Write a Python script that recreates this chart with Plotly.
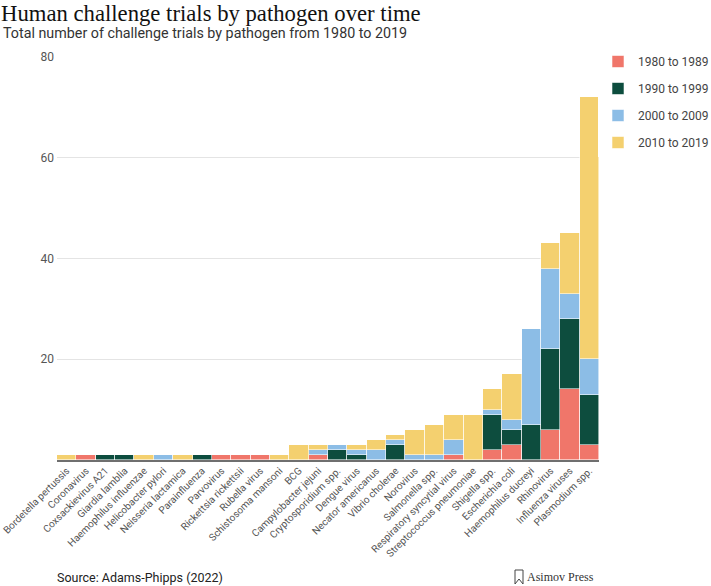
import plotly.graph_objects as go

# pathogens in plotting order (left to right)
pathogens = [
    "Bordetella pertussis", "Coronavirus", "Coxsackievirus A21", "Giardia lamblia",
    "Haemophilus influenzae", "Helicobacter pylori", "Neisseria lactamica", "Parainfluenza",
    "Parvovirus", "Rickettsia rickettsii", "Rubella virus", "Schistosoma mansoni",
    "BCG", "Campylobacter jejuni", "Cryptosporidium spp.", "Dengue virus",
    "Necator americanus", "Vibrio cholerae", "Norovirus", "Salmonella spp.",
    "Respiratory syncytial virus", "Streptococcus pneumoniae", "Shigella spp.",
    "Escherichia coli", "Haemophilus ducreyi", "Rhinovirus", "Influenza viruses",
    "Plasmodium spp.",
]

# number of trials per decade
trials_1980s = [0, 1, 0, 0, 0, 0, 0, 0, 1, 1, 1, 0, 0, 1, 0, 0, 0, 0, 0, 0, 1, 0, 2, 3, 0, 6, 14, 3]
trials_1990s = [0, 0, 1, 1, 0, 0, 0, 1, 0, 0, 0, 0, 0, 0, 2, 1, 0, 3, 0, 0, 0, 0, 7, 3, 7, 16, 14, 10]
trials_2000s = [0, 0, 0, 0, 0, 1, 0, 0, 0, 0, 0, 0, 0, 1, 1, 1, 2, 1, 1, 1, 3, 0, 1, 2, 19, 16, 5, 7]
trials_2010s = [1, 0, 0, 0, 1, 0, 1, 0, 0, 0, 0, 1, 3, 1, 0, 1, 2, 1, 5, 6, 5, 9, 4, 9, 0, 5, 12, 52]

decades = ["1980 to 1989", "1990 to 1999", "2000 to 2009", "2010 to 2019"]
colours = ["#F0766A", "#0D4D3E", "#8CBDE6", "#F4D06F"]

fig = go.Figure()
for i, (name, vals) in enumerate(zip(decades, [trials_1980s, trials_1990s, trials_2000s, trials_2010s])):
    fig.add_trace(go.Bar(
        x=pathogens, y=vals, name=name, legendgroup=name,
        marker=dict(color=colours[i], line=dict(color="rgba(255,255,255,0.7)", width=0.8)),
    ))

# plot area in pixels: x 57..599, y 57..460
L, R, T, B = 57, 112, 57, 126
PW, PH = 711 - L - R, 586 - T - B

fig.update_layout(
    width=711, height=586,
    barmode="stack", bargap=0,
    plot_bgcolor="white", paper_bgcolor="white",
    margin=dict(l=L, r=R, t=T, b=B, autoexpand=False),
    font=dict(family="Roboto", color="#444"),
    legend=dict(x=(598 - L) / PW, y=(PH + T - 47) / PH, xanchor="left", yanchor="top",
                traceorder="grouped", tracegroupgap=8,
                font=dict(size=12, color="#444")),
    title=dict(text="Human challenge trials by pathogen over time",
               font=dict(family="Liberation Serif", size=22.7, color="#111"),
               x=0.0015, xref="container", xanchor="left",
               y=1 - 13 / 586, yref="container", yanchor="middle"),
)

fig.update_yaxes(range=[0, 80], tickvals=[20, 40, 60, 80], gridcolor="#e4e4e4",
                 gridwidth=1, zeroline=False, ticks="", tickfont=dict(size=12, color="#555"),
                 ticklabelstandoff=2, automargin=False)
fig.update_xaxes(tickangle=-45, tickfont=dict(size=10, color="#555"), showline=True,
                 linecolor="#6f6f6f", linewidth=2, ticks="", automargin=False,
                 ticklabelstandoff=-1)

fig.add_annotation(text="Total number of challenge trials by pathogen from 1980 to 2019",
                   xref="paper", yref="paper", x=-(L - 1) / PW, y=(586 - B - 33) / PH,
                   xanchor="left", yanchor="middle", showarrow=False,
                   font=dict(family="Roboto", size=14.3, color="#333"))
fig.add_annotation(text="Source: Adams-Phipps (2022)",
                   xref="paper", yref="paper", x=-2 / PW, y=-(577 - T - PH) / PH,
                   xanchor="left", yanchor="middle", showarrow=False,
                   font=dict(family="Roboto", size=12.5, color="#222"))
fig.add_annotation(text="Asimov Press",
                   xref="paper", yref="paper", x=(596 - L) / PW, y=-(577 - T - PH) / PH,
                   xanchor="right", yanchor="middle", showarrow=False,
                   font=dict(family="Liberation Serif", size=12, color="#333"))

# small bookmark-style mark next to the publisher name
fig.add_shape(type="path", xref="paper", yref="paper",
              path="M {x0},{y0} L {x0},{y1} L {xm},{ym} L {x1},{y1} L {x1},{y0} Z".format(
                  x0=(515 - L) / PW, x1=(523 - L) / PW, xm=(519 - L) / PW,
                  y0=-(570 - T - PH) / PH, y1=-(584 - T - PH) / PH, ym=-(579 - T - PH) / PH),
              line=dict(color="#444", width=1), fillcolor="rgba(0,0,0,0)")

fig.write_html("out.html", config={"displayModeBar": False},
               post_script="document.body.style.margin='0';")
